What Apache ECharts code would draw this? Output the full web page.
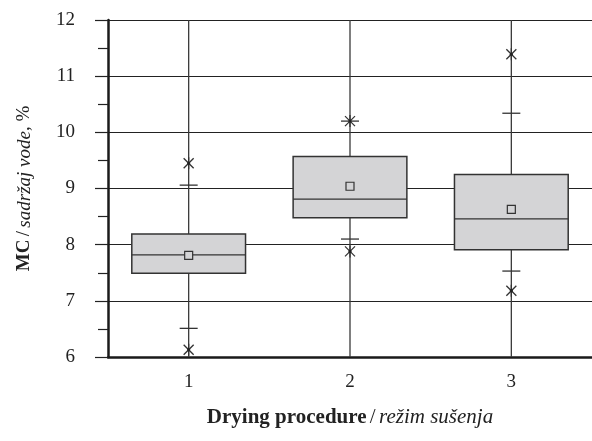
<!DOCTYPE html>
<html><head><meta charset="utf-8">
<script src="https://cdn.jsdelivr.net/npm/echarts@6/dist/echarts.min.js"></script>
<style>html,body{margin:0;padding:0;background:#fff}#c{width:592px;height:441px}</style>
</head><body><div id="c"></div>
<script>
const categories = ['1', '2', '3'];
const whiskerLow = [6.51, 8.10, 7.53];
const q1 = [7.49, 8.48, 7.91];
const median = [7.82, 8.81, 8.46];
const q3 = [8.19, 9.57, 9.25];
const whiskerHigh = [9.06, 10.20, 10.34];
const means = [7.81, 9.04, 8.63];
const outlierLow = [6.13, 7.88, 7.18];
const outlierHigh = [9.45, 10.20, 11.39];
const yTicks = [6, 7, 8, 9, 10, 11, 12];

const FONT = 'Liberation Serif';
const data = categories.map((c, i) => [i, whiskerLow[i], q1[i], median[i], q3[i], whiskerHigh[i], means[i], outlierLow[i], outlierHigh[i]]);

function renderItem(params, api) {
  const i = api.value(0);
  const band = api.size([1, 0])[0];
  const bw = band * 0.705;
  const capW = 9;
  const p = (v) => api.coord([i, v]);
  const top = p(yTicks[yTicks.length - 1]);
  const bot = p(yTicks[0]);
  const x = top[0];
  const lo = p(api.value(1)), b1 = p(api.value(2)), md = p(api.value(3)), b3 = p(api.value(4)), hi = p(api.value(5));
  const mn = p(api.value(6)), oL = p(api.value(7)), oH = p(api.value(8));
  const lineStyle = { stroke: '#333', lineWidth: 1.3, fill: null };
  const children = [];
  children.push({ type: 'line', shape: { x1: x, y1: top[1], x2: x, y2: bot[1] }, style: { stroke: '#3a3a3a', lineWidth: 1.3 } });
  children.push({ type: 'line', shape: { x1: x - capW, y1: lo[1], x2: x + capW, y2: lo[1] }, style: lineStyle });
  children.push({ type: 'line', shape: { x1: x - capW, y1: hi[1], x2: x + capW, y2: hi[1] }, style: lineStyle });
  children.push({ type: 'rect', shape: { x: x - bw / 2, y: b3[1], width: bw, height: b1[1] - b3[1] }, style: { fill: '#d4d4d6', stroke: '#333', lineWidth: 1.5 } });
  children.push({ type: 'line', shape: { x1: x - bw / 2, y1: md[1], x2: x + bw / 2, y2: md[1] }, style: { stroke: '#333', lineWidth: 1.3 } });
  children.push({ type: 'rect', shape: { x: mn[0] - 4, y: mn[1] - 4, width: 8, height: 8 }, style: { fill: '#d4d4d6', stroke: '#333', lineWidth: 1.2 } });
  [oL, oH].forEach(o => {
    const s = 5;
    children.push({ type: 'line', shape: { x1: o[0] - s, y1: o[1] - s, x2: o[0] + s, y2: o[1] + s }, style: lineStyle });
    children.push({ type: 'line', shape: { x1: o[0] - s, y1: o[1] + s, x2: o[0] + s, y2: o[1] - s }, style: lineStyle });
    children.push({ type: 'line', shape: { x1: o[0], y1: o[1] - s - 1, x2: o[0], y2: o[1] + s + 1 }, style: lineStyle });
    children.push({ type: 'circle', shape: { cx: o[0], cy: o[1], r: 1.6 }, style: { fill: '#222' } });
  });
  return { type: 'group', children };
}

const chart = echarts.init(document.getElementById('c'), null, { renderer: 'canvas' });
chart.setOption({
  animation: false,
  backgroundColor: '#fff',
  grid: { left: 108, right: 0, top: 20, bottom: 84 },
  xAxis: {
    type: 'category', data: categories, boundaryGap: true,
    axisLine: { lineStyle: { color: '#1a1a1a', width: 2.5 } },
    axisTick: { alignWithLabel: true, length: 13, lineStyle: { color: '#444', width: 1.2 } },
    axisLabel: { margin: 16, color: '#222', fontFamily: FONT, fontSize: 19 },
    splitLine: { show: false },
    name: '{b|Drying procedure} {n|/} {i|režim sušenja}',
    nameLocation: 'middle', nameGap: 50,
    nameTextStyle: {
      rich: {
        b: { fontFamily: FONT, fontSize: 21, fontWeight: 'bold', color: '#222' },
        n: { fontFamily: FONT, fontSize: 21, color: '#222' },
        i: { fontFamily: FONT, fontSize: 21, fontStyle: 'italic', color: '#222' }
      }
    }
  },
  yAxis: {
    type: 'value', min: 6, max: 12, interval: 1,
    axisLine: { show: true, lineStyle: { color: '#1a1a1a', width: 2.5 } },
    axisTick: { show: true, length: 13, lineStyle: { color: '#222', width: 1.2 } },
    minorTick: { show: true, splitNumber: 2, length: 10, lineStyle: { color: '#222', width: 1.2 } },
    axisLabel: { margin: 33, color: '#222', fontFamily: FONT, fontSize: 19 },
    splitLine: { show: true, lineStyle: { color: '#222', width: 1.2 } },
    name: '{b|MC} {n|/} {i|sadržaj vode}{n|, %}',
    nameLocation: 'middle', nameGap: 74,
    nameTextStyle: {
      rich: {
        b: { fontFamily: FONT, fontSize: 19, fontWeight: 'bold', color: '#222' },
        n: { fontFamily: FONT, fontSize: 19, color: '#222' },
        i: { fontFamily: FONT, fontSize: 19, fontStyle: 'italic', color: '#222' }
      }
    }
  },
  series: [{
    type: 'custom', renderItem, data,
    encode: { x: 0, y: [1, 2, 3, 4, 5, 6, 7, 8] }, clip: false, z: 1
  }]
});
</script></body></html>
